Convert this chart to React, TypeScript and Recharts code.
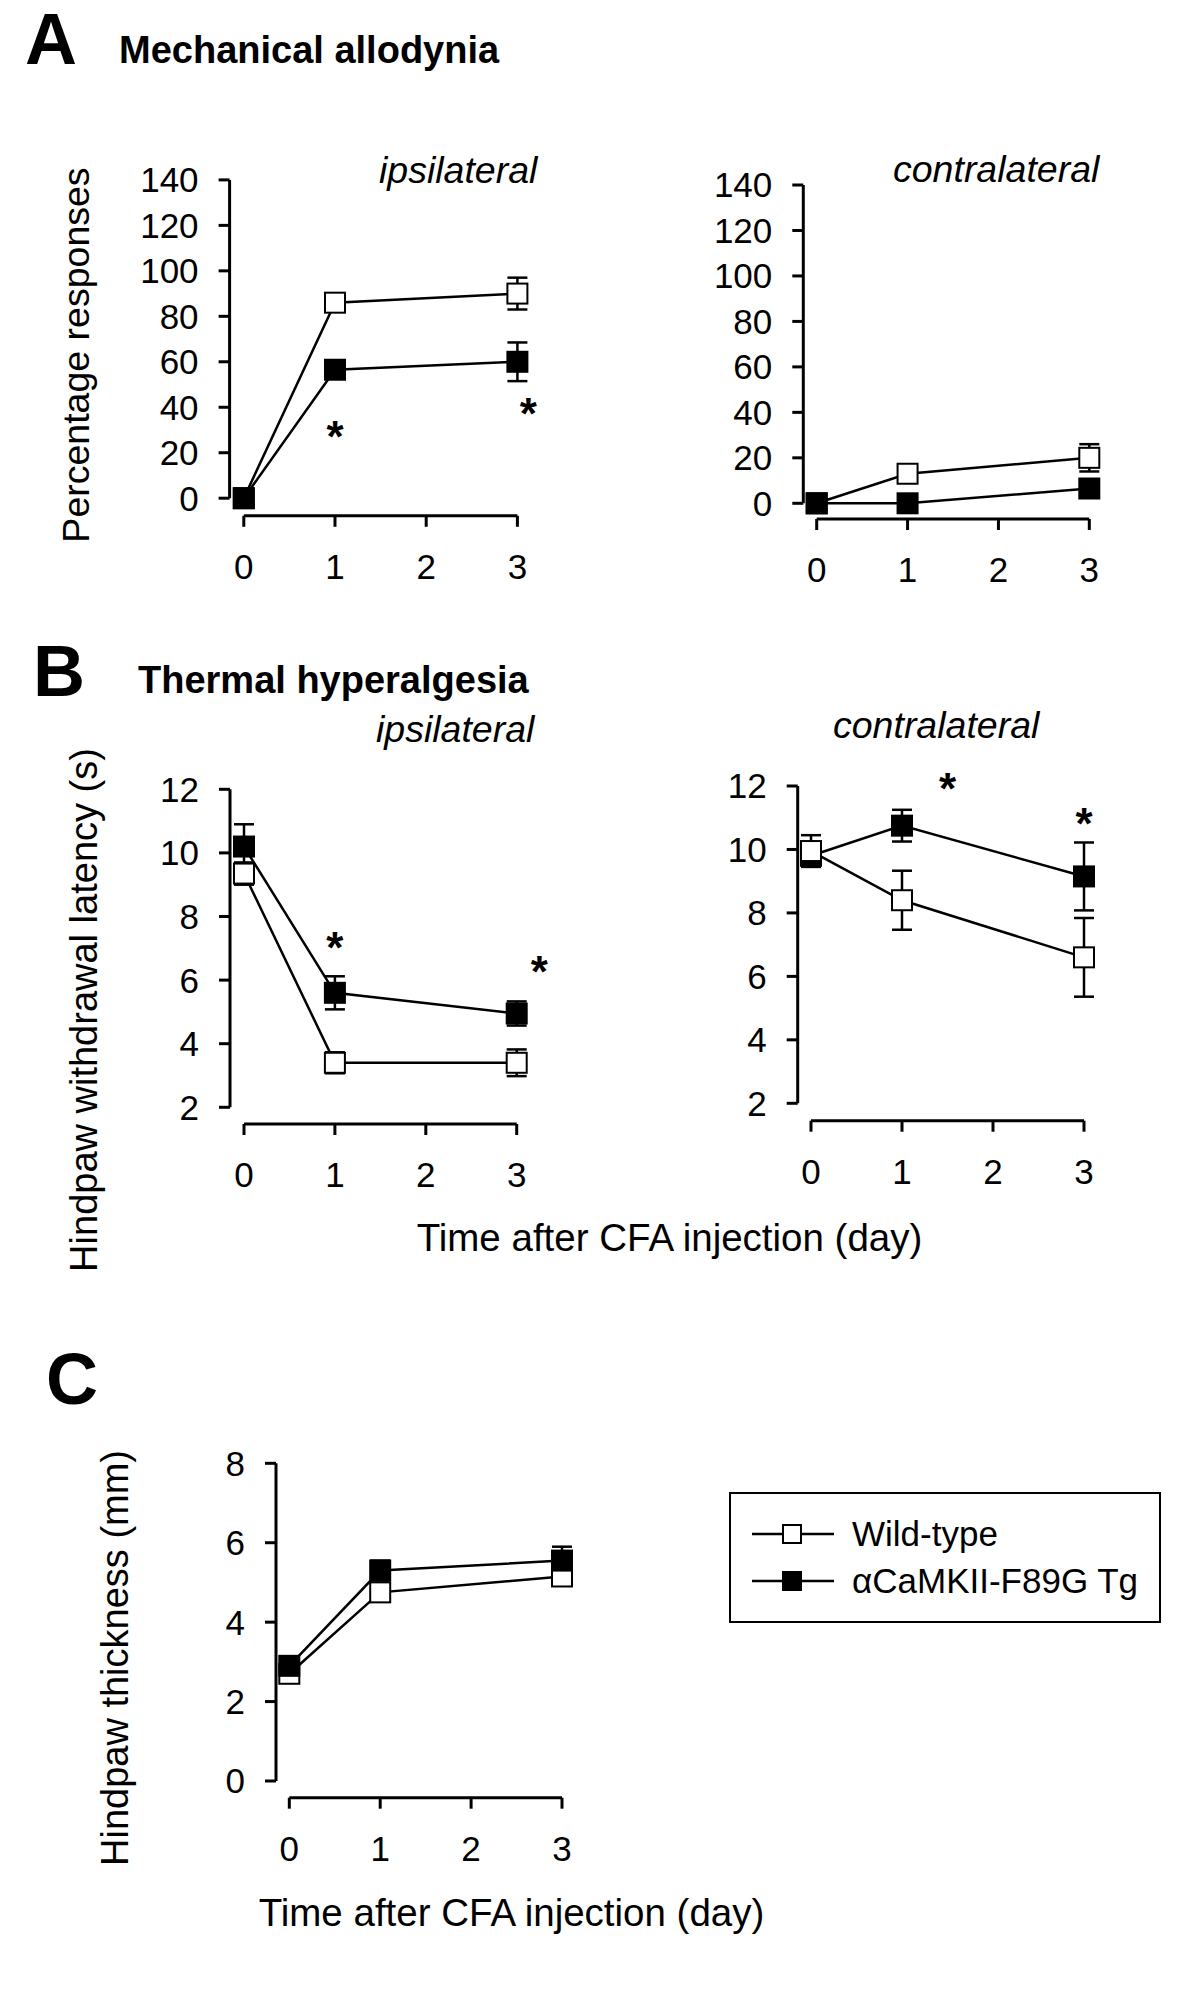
import React from 'react';
import { LineChart, Line, XAxis, YAxis, ErrorBar, ReferenceLine, ReferenceDot, Legend } from 'recharts';

const FONT = '"Liberation Sans", Arial, Helvetica, sans-serif';

// days after CFA injection, and the axis ticks
const days = [0, 1, 3];
const dayTicks = [0, 1, 2, 3];
const pctTicks = [0, 20, 40, 60, 80, 100, 120, 140];
const latTicks = [2, 4, 6, 8, 10, 12];
const mmTicks = [0, 2, 4, 6, 8];

const seriesNames = ['Wild-type', 'αCaMKII-F89G Tg'];

// A - mechanical allodynia (% responses)
const mechIpsiWT = [0, 86, 90];
const mechIpsiWTErr = [0, 2, 7];
const mechIpsiTg = [0, 56.5, 60];
const mechIpsiTgErr = [0, 3, 8.5];
const mechIpsiStarDays = [1, 3.12];
const mechIpsiStarLevels = [31, 41];

const mechContraWT = [0, 13, 20];
const mechContraWTErr = [0, 2, 6];
const mechContraTg = [0, 0, 6.5];
const mechContraTgErr = [0, 0, 3];

// B - thermal hyperalgesia (withdrawal latency, s)
const thermIpsiWT = [9.35, 3.4, 3.4];
const thermIpsiWTErr = [0.35, 0.33, 0.42];
const thermIpsiTg = [10.2, 5.6, 4.95];
const thermIpsiTgErr = [0.7, 0.52, 0.38];
const thermIpsiStarDays = [1, 3.25];
const thermIpsiStarLevels = [7.3, 6.55];

const thermContraWT = [9.95, 8.4, 6.6];
const thermContraWTErr = [0.5, 0.93, 1.24];
const thermContraTg = [9.8, 10.75, 9.15];
const thermContraTgErr = [0.3, 0.5, 1.07];
const thermContraStarDays = [1.5, 3];
const thermContraStarLevels = [12.2, 11.1];

// C - hindpaw thickness (mm)
const thickWT = [2.7, 4.75, 5.15];
const thickWTErr = [0.1, 0.15, 0.2];
const thickTg = [2.9, 5.3, 5.55];
const thickTgErr = [0.1, 0.25, 0.35];

const markerFill: Record<string, string> = { 'Wild-type': '#fff', 'αCaMKII-F89G Tg': '#000' };

const SQ = 20;

const square = (fill: string) => (props: any) => {
  const { cx, cy, index } = props;
  if (cx == null || cy == null) return <g key={`e-${index}`} />;
  return (
    <rect key={`sq-${fill}-${index}`} x={cx - SQ / 2} y={cy - SQ / 2} width={SQ} height={SQ}
      fill={fill} stroke="#000" strokeWidth={2} />
  );
};

const star = (props: any) => (
  <text x={props.cx} y={props.cy + 24} textAnchor="middle" fontSize={44}
    fontWeight="bold" fontFamily={FONT} fill="#000">*</text>
);

const LegendBox = (props: any) => {
  const items = [...(props.payload || [])].sort(
    (a: any, b: any) => seriesNames.indexOf(a.value) - seriesNames.indexOf(b.value));
  return (
    <div style={{ width: 432, height: 131, boxSizing: 'border-box', border: '2px solid #000',
      background: '#fff', paddingTop: 16 }}>
      {items.map((it: any) => (
        <div key={it.value} style={{ display: 'flex', alignItems: 'center', height: 47 }}>
          <svg width={82} height={24} style={{ marginLeft: 21, flex: 'none' }}>
            <line x1={0} x2={82} y1={12} y2={12} stroke="#000" strokeWidth={2.5} />
            <rect x={31} y={3} width={18} height={18} fill={markerFill[it.value]} stroke="#000" strokeWidth={2} />
          </svg>
          <span style={{ fontFamily: FONT, fontSize: 35, marginLeft: 18, color: '#000', whiteSpace: 'nowrap' }}>
            {it.value}
          </span>
        </div>
      ))}
    </div>
  );
};

type Box = { left: number; top: number; width: number; height: number };

type PanelProps = {
  box: Box;
  axisX: number; topPx: number; botPx: number; lineY: number; x0: number; x3: number;
  yTicks: number[];
  wt: number[]; wtErr: number[]; tg: number[]; tgErr: number[];
  tgOnTop: boolean;
  starDays?: number[]; starLevels?: number[];
  legendAt?: { left: number; top: number };
};

const Panel = (p: PanelProps) => {
  const { box } = p;
  const yMin = p.yTicks[0];
  const yMax = p.yTicks[p.yTicks.length - 1];
  // the x axis sits detached below the lowest y tick, and the y axis left of day 0
  const pxPerUnit = (p.botPx - p.topPx) / (yMax - yMin);
  const yLow = yMin - (p.lineY - p.botPx) / pxPerUnit;
  const pxPerDay = (p.x3 - p.x0) / 3;
  const xLow = -(p.x0 - p.axisX) / pxPerDay;

  const data = days.map((d, i) => ({ day: d, wt: p.wt[i], wtErr: p.wtErr[i], tg: p.tg[i], tgErr: p.tgErr[i] }));

  const wtLine = (
    <Line key="wt" type="linear" dataKey="wt" name={seriesNames[0]} stroke="#000" strokeWidth={2.5}
      dot={square('#fff')} activeDot={false} isAnimationActive={false}>
      <ErrorBar dataKey="wtErr" direction="y" width={10} stroke="#000" strokeWidth={2.5} isAnimationActive={false} />
    </Line>
  );
  const tgLine = (
    <Line key="tg" type="linear" dataKey="tg" name={seriesNames[1]} stroke="#000" strokeWidth={2.5}
      dot={square('#000')} activeDot={false} isAnimationActive={false}>
      <ErrorBar dataKey="tgErr" direction="y" width={10} stroke="#000" strokeWidth={2.5} isAnimationActive={false} />
    </Line>
  );

  const tickStyle = { fill: '#000', fontSize: 35, fontFamily: FONT };
  const tickLine = { stroke: '#000', strokeWidth: 3 };

  return (
    <div style={{ position: 'absolute', left: box.left, top: box.top }}>
      <LineChart width={box.width} height={box.height} data={data}
        margin={{ top: p.topPx - box.top, right: box.left + box.width - p.x3, bottom: 0, left: 0 }}>
        <XAxis type="number" dataKey="day" domain={[xLow, 3]} ticks={dayTicks} interval={0}
          axisLine={false} tickLine={tickLine} tickSize={11} tickMargin={27} tick={tickStyle}
          height={box.top + box.height - p.lineY} />
        <YAxis type="number" domain={[yLow, yMax]} ticks={p.yTicks} interval={0}
          axisLine={false} tickLine={tickLine} tickSize={11} tickMargin={20} tick={tickStyle}
          width={p.axisX - box.left} />
        <ReferenceLine segment={[{ x: xLow, y: yMin }, { x: xLow, y: yMax }]} stroke="#000" strokeWidth={3} ifOverflow="visible" />
        <ReferenceLine segment={[{ x: 0, y: yLow }, { x: 3, y: yLow }]} stroke="#000" strokeWidth={3} ifOverflow="visible" />
        {p.tgOnTop ? [wtLine, tgLine] : [tgLine, wtLine]}
        {(p.starDays || []).map((d, i) => (
          <ReferenceDot key={`star-${i}`} x={d} y={p.starLevels![i]} ifOverflow="visible" shape={star} />
        ))}
        {p.legendAt && (
          <Legend content={LegendBox} layout="vertical" align="center" verticalAlign="middle"
            wrapperStyle={{ left: p.legendAt.left - box.left, top: p.legendAt.top - box.top, width: 432, height: 131 }} />
        )}
      </LineChart>
    </div>
  );
};

const Annotations = () => {
  const t = { fontFamily: FONT, fill: '#000' };
  return (
    <svg width={1200} height={2009} style={{ position: 'absolute', left: 0, top: 0 }}>
      <text x={25} y={64} fontSize={72} fontWeight="bold" {...t}>A</text>
      <text x={119} y={63} fontSize={38} fontWeight="bold" {...t}>Mechanical allodynia</text>
      <text x={379} y={183} fontSize={37.5} fontStyle="italic" {...t}>ipsilateral</text>
      <text x={893} y={182} fontSize={37.5} fontStyle="italic" {...t}>contralateral</text>
      <text x={89} y={355} fontSize={37.5} textAnchor="middle" transform="rotate(-90 89 355)" {...t}>Percentage responses</text>

      <text x={33} y={696} fontSize={72} fontWeight="bold" {...t}>B</text>
      <text x={138} y={693} fontSize={38} fontWeight="bold" {...t}>Thermal hyperalgesia</text>
      <text x={376} y={742} fontSize={37.5} fontStyle="italic" {...t}>ipsilateral</text>
      <text x={833} y={738} fontSize={37.5} fontStyle="italic" {...t}>contralateral</text>
      <text x={97} y={1010} fontSize={38} textAnchor="middle" transform="rotate(-90 97 1010)" {...t}>Hindpaw withdrawal latency (s)</text>
      <text x={669.5} y={1251} fontSize={38.5} textAnchor="middle" {...t}>Time after CFA injection (day)</text>

      <text x={46} y={1404} fontSize={72} fontWeight="bold" {...t}>C</text>
      <text x={128} y={1658} fontSize={38} textAnchor="middle" transform="rotate(-90 128 1658)" {...t}>Hindpaw thickness (mm)</text>
      <text x={511.5} y={1926} fontSize={38.5} textAnchor="middle" {...t}>Time after CFA injection (day)</text>
    </svg>
  );
};

export default function App() {
  return (
    <div style={{ position: 'absolute', left: 0, top: 0, width: 1200, height: 2009, background: '#fff', fontFamily: FONT }}>
      <Annotations />
      <Panel box={{ left: 100, top: 140, width: 470, height: 460 }}
        axisX={229.6} topPx={179.9} botPx={498.2} lineY={515.8} x0={243.8} x3={517.4}
        yTicks={pctTicks} wt={mechIpsiWT} wtErr={mechIpsiWTErr} tg={mechIpsiTg} tgErr={mechIpsiTgErr}
        tgOnTop starDays={mechIpsiStarDays} starLevels={mechIpsiStarLevels} />
      <Panel box={{ left: 680, top: 140, width: 480, height: 460 }}
        axisX={803.3} topPx={185} botPx={503.3} lineY={519} x0={816.7} x3={1089.3}
        yTicks={pctTicks} wt={mechContraWT} wtErr={mechContraWTErr} tg={mechContraTg} tgErr={mechContraTgErr}
        tgOnTop />
      <Panel box={{ left: 100, top: 750, width: 470, height: 460 }}
        axisX={230} topPx={789.3} botPx={1107.3} lineY={1124} x0={244} x3={516.7}
        yTicks={latTicks} wt={thermIpsiWT} wtErr={thermIpsiWTErr} tg={thermIpsiTg} tgErr={thermIpsiTgErr}
        tgOnTop={false} starDays={thermIpsiStarDays} starLevels={thermIpsiStarLevels} />
      <Panel box={{ left: 680, top: 740, width: 480, height: 470 }}
        axisX={797.7} topPx={786} botPx={1103.3} lineY={1120.7} x0={811} x3={1084}
        yTicks={latTicks} wt={thermContraWT} wtErr={thermContraWTErr} tg={thermContraTg} tgErr={thermContraTgErr}
        tgOnTop={false} starDays={thermContraStarDays} starLevels={thermContraStarLevels} />
      <Panel box={{ left: 150, top: 1430, width: 1030, height: 460 }}
        axisX={276} topPx={1463.3} botPx={1781} lineY={1797.7} x0={289.3} x3={562}
        yTicks={mmTicks} wt={thickWT} wtErr={thickWTErr} tg={thickTg} tgErr={thickTgErr}
        tgOnTop legendAt={{ left: 729, top: 1492 }} />
    </div>
  );
}
